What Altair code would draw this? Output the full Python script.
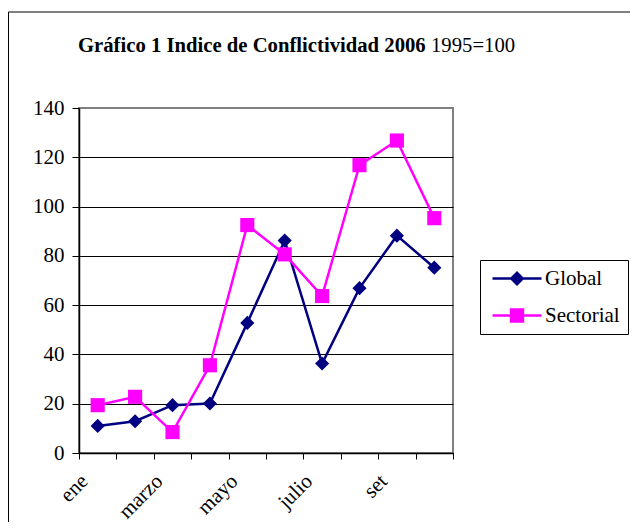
import altair as alt
import pandas as pd

months = ["ene", "feb", "marzo", "abril", "mayo", "junio", "julio", "agosto", "set", "oct"]
global_vals = [11.0, 12.9, 19.4, 20.1, 52.8, 86.2, 36.3, 66.9, 88.2, 75.2]
sect_vals = [19.4, 22.8, 8.5, 35.6, 92.5, 80.6, 63.7, 116.8, 126.8, 95.3]
series_names = ["Global", "Sectorial"]
series_colors = ["#000080", "#FF00FF"]
shown_labels = ["ene", "marzo", "mayo", "julio", "set"]
y_ticks = [0, 20, 40, 60, 80, 100, 120, 140]
title_bold = "Gráfico 1 Indice de Conflictividad 2006"
title_normal = "1995=100"

FONT = "Liberation Serif"
FS = 21
TFS = 20.7

df = pd.DataFrame({
    "mes": months * 2,
    "valor": global_vals + sect_vals,
    "serie": ["Global"] * len(months) + ["Sectorial"] * len(months),
})

label_list = "[" + ",".join("'%s'" % m for m in shown_labels) + "]"

x_enc = alt.X(
    "mes:N", sort=months, bandPosition=0.5,
    scale=alt.Scale(type="band", paddingInner=0, paddingOuter=0),
    axis=alt.Axis(
        title=None, tickBand="extent", grid=False,
        labelAngle=-45, labelAlign="right", labelBaseline="top",
        labelExpr="indexof(%s, datum.value) >= 0 ? datum.label : ''" % label_list,
        labelFont=FONT, labelFontSize=FS, labelColor="black",
        labelPadding=11, labelOffset=-21, tickSize=6, tickColor="black", domainColor="black",
        domainWidth=1.5, tickWidth=1, labelOverlap=False,
    ),
)
y_enc = alt.Y(
    "valor:Q",
    scale=alt.Scale(domain=[0, 140], nice=False),
    axis=alt.Axis(
        title=None, values=y_ticks, grid=True,
        gridColor={"condition": {"test": "datum.value == 140", "value": "#808080"}, "value": "black"},
        gridWidth=1, labelFont=FONT, labelFontSize=FS, labelColor="black",
        labelPadding=8, tickSize=7, tickColor="black", domainColor="black",
        domainWidth=1.5, tickWidth=1,
    ),
)

base = alt.Chart(df)

def series_layers(name, color, shape):
    d = base.transform_filter(alt.datum.serie == name)
    line = d.mark_line(color=color, strokeWidth=2.5).encode(x=x_enc, y=y_enc)
    pts = d.mark_point(shape=shape, filled=True, size=200, color=color, opacity=1).encode(x=x_enc, y=y_enc)
    return [line, pts]

# legend symbols: line segment with marker, in units of 10px
line_part = "M-0.6,-0.125L4.3,-0.125L4.3,0.125L-0.6,0.125Z"
diamond_path = line_part + " M1.85,-0.75L2.6,0L1.85,0.75L1.1,0Z"
square_path = line_part + " M1.13,-0.72L2.57,-0.72L2.57,0.72L1.13,0.72Z"

leg = alt.Legend(
    title=None, orient="none", legendX=401, legendY=152,
    strokeColor="black", fillColor="white", padding=8,
    labelFont=FONT, labelFontSize=FS, labelColor="black",
    symbolSize=400, symbolStrokeWidth=0, rowPadding=15, labelOffset=36,
)
legend_layer = base.mark_point(filled=True, size=400, opacity=1).encode(
    x=alt.value(0), y=alt.value(-3000),
    color=alt.Color("serie:N", scale=alt.Scale(domain=series_names, range=series_colors), legend=leg),
    shape=alt.Shape("serie:N", scale=alt.Scale(domain=series_names, range=[diamond_path, square_path]), legend=leg),
)

one = pd.DataFrame({"t1": [title_bold], "t2": [title_normal]})
border = alt.Chart(one).mark_rect(fill="white", fillOpacity=0, stroke="black", strokeWidth=1).encode(
    x=alt.value(-70.5), x2=alt.value(560), y=alt.value(-96), y2=alt.value(600)
)
t1 = alt.Chart(one).mark_text(font=FONT, fontSize=TFS, fontWeight="bold", align="left",
                              baseline="alphabetic", color="black").encode(
    text="t1:N", x=alt.value(-1), y=alt.value(-56))
t2 = alt.Chart(one).mark_text(font=FONT, fontSize=TFS, fontWeight="normal", align="left",
                              baseline="alphabetic", color="black").encode(
    text="t2:N", x=alt.value(352), y=alt.value(-56))

layers = [border] + series_layers("Global", series_colors[0], "diamond") + \
    series_layers("Sectorial", series_colors[1], "square") + [legend_layer, t1, t2]

chart = alt.layer(*layers).properties(
    width=374, height=345,
    padding={"left": 71, "top": 100, "right": 177, "bottom": 69},
    autosize=alt.AutoSizeParams(type="none"),
    background="white",
).configure_view(stroke="#808080", strokeWidth=2)

chart.save("out.html", embed_options={"renderer": "svg", "actions": False})
